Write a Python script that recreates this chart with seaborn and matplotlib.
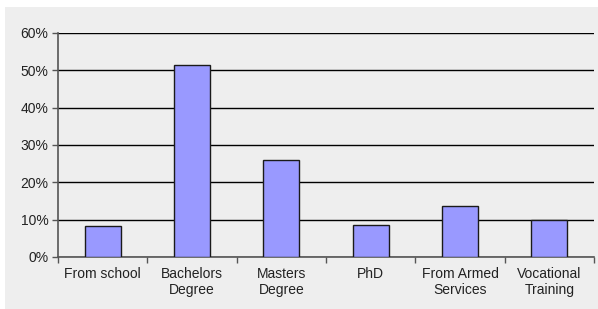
import matplotlib
matplotlib.use('Agg')
import matplotlib.pyplot as plt
from matplotlib.ticker import PercentFormatter, FixedLocator
from matplotlib.patches import Rectangle
import numpy as np
import pandas as pd
import seaborn as sns

categories = ["From school", "Bachelors\nDegree", "Masters\nDegree", "PhD",
              "From Armed\nServices", "Vocational\nTraining"]
values = [8.3, 51.5, 26.0, 8.6, 13.6, 10.0]
yticks = [0, 10, 20, 30, 40, 50, 60]

sns.set_style("white")
plt.rcParams['font.family'] = ['Liberation Sans', 'DejaVu Sans']

fig = plt.figure(figsize=(5.98, 3.09), dpi=100)
fig.patch.set_facecolor("white")
# grey chart area with white margin on top/left
bg = Rectangle((5 / 598, 0), 1, 1 - 7 / 309, transform=fig.transFigure,
               facecolor="#eeeeee", edgecolor="none", zorder=-10)
fig.patches.append(bg)

ax = fig.add_axes([58 / 598, 1 - 257 / 309, (594 - 58) / 598, (257 - 33) / 309])
ax.set_zorder(5)
ax.set_facecolor("none")

df = pd.DataFrame({"cat": categories, "val": values})
sns.barplot(data=df, x="cat", y="val", color="#9999ff", edgecolor="#1a1a1a",
            linewidth=1.0, width=0.4, saturation=1, ax=ax, zorder=3)

ax.set_ylim(0, 60)
ax.set_xlim(-0.5, len(categories) - 0.5)
ax.set_yticks(yticks)
ax.yaxis.set_major_formatter(PercentFormatter(decimals=0))
ax.grid(axis="y", color="black", linewidth=1.0, zorder=0)
ax.set_axisbelow(True)

for s in ["top", "right"]:
    ax.spines[s].set_visible(False)
for s in ["left", "bottom"]:
    ax.spines[s].set_color("#555555")
    ax.spines[s].set_linewidth(1.2)

ax.tick_params(axis="y", left=True, length=4, width=1, color="#555555",
               labelsize=10, labelcolor="#222222", pad=3)
ax.tick_params(axis="x", which="major", length=0, labelsize=10,
               labelcolor="#222222", pad=7)
ax.xaxis.set_minor_locator(FixedLocator(np.arange(-0.5, len(categories), 1.0)))
ax.tick_params(axis="x", which="minor", bottom=True, length=4, width=1, color="#555555")
ax.set_xlabel("")
ax.set_ylabel("")

plt.savefig("out.png", dpi=100)
